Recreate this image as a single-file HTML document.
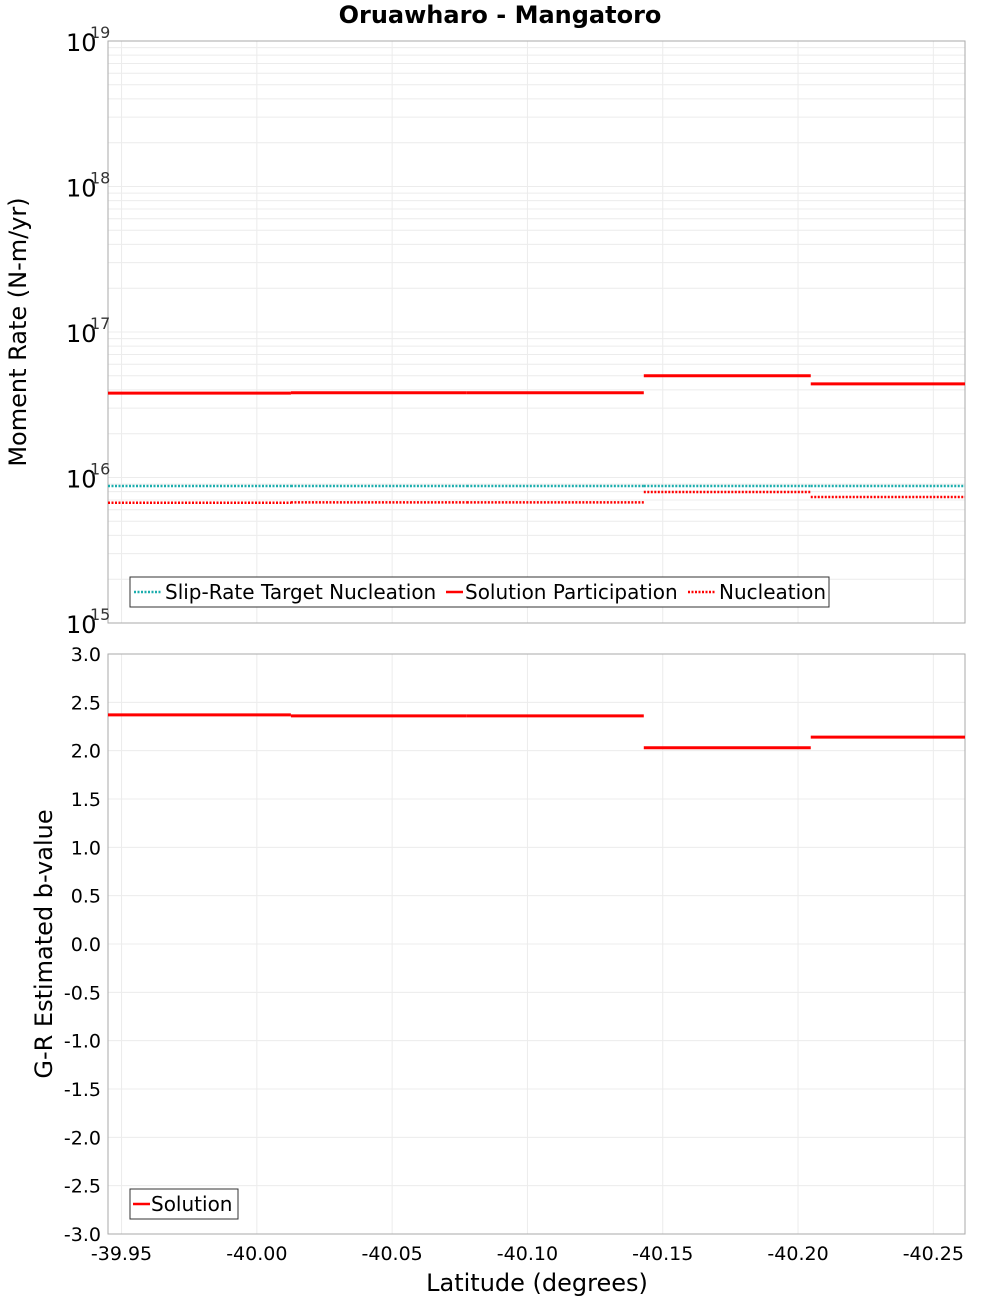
<!DOCTYPE html>
<html><head><meta charset="utf-8"><style>
body{margin:0;background:#fff;}
svg{display:block;font-family:"DejaVu Sans","Liberation Sans",sans-serif;}
</style></head><body>
<svg id="c" width="1000" height="1300"></svg>
<script>
const boundaries=[-39.945,-40.0126,-40.0776,-40.1430,-40.2047,-40.2617];
const participation=[3.8e16,3.82e16,3.82e16,5.0e16,4.4e16];
const target=[8.75e15,8.75e15,8.75e15,8.75e15,8.75e15];
const nucleation=[6.7e15,6.75e15,6.75e15,7.95e15,7.35e15];
const bvalue=[2.37,2.36,2.36,2.03,2.14];
const xTicks=[-39.95,-40.00,-40.05,-40.10,-40.15,-40.20,-40.25];
const xTickLabels=["-39.95","-40.00","-40.05","-40.10","-40.15","-40.20","-40.25"];
const decades=[15,16,17,18,19];
const bTicks=[-3,-2.5,-2,-1.5,-1,-0.5,0,0.5,1,1.5,2,2.5,3];

const NS="http://www.w3.org/2000/svg";
const svg=document.getElementById('c');
const L=108,R=965,T1=41,B1=623,T2=654,B2=1234;
const x=v=>L+(v-boundaries[0])/(boundaries[5]-boundaries[0])*(R-L);
const y1=v=>B1-(Math.log10(v)-15)/4*(B1-T1);
const y2=v=>B2-(v+3)/6*(B2-T2);
function el(tag,attrs,txt){const e=document.createElementNS(NS,tag);for(const k in attrs)e.setAttribute(k,attrs[k]);if(txt!==undefined)e.textContent=txt;svg.appendChild(e);return e;}

for(let d=15;d<19;d++)for(let m=1;m<10;m++){const yy=y1(m*Math.pow(10,d));
 const g=el('line',{x1:L,x2:R,y1:yy,y2:yy,stroke:'#ececec','stroke-width':1});
 }
bTicks.forEach(t=>{const g=el('line',{x1:L,x2:R,y1:y2(t),y2:y2(t),stroke:'#ececec'});
 });
xTicks.forEach(t=>{[[T1,B1],[T2,B2]].forEach(([a,b])=>{const g=el('line',{x1:x(t),x2:x(t),y1:a,y2:b,stroke:'#ececec'});
 });});

let f=el('rect',{x:L,y:T1,width:R-L,height:B1-T1,fill:'none',stroke:'#aaa'});

f=el('rect',{x:L,y:T2,width:R-L,height:B2-T2,fill:'none',stroke:'#aaa'});


function steps(arr,yf,color,dash,name,w){arr.forEach((v,i)=>{const a={x1:x(boundaries[i]),x2:x(boundaries[i+1]),y1:yf(v),y2:yf(v),stroke:color,'stroke-width':w};
 if(dash)a['stroke-dasharray']=dash;const s=el('line',a);
 });}
steps(target,y1,'#1aadad','2,1.5','target-nucleation',2.5);
steps(nucleation,y1,'#ff0000','2,1.5','nucleation',2.5);
steps(participation,y1,'#ff0000',null,'solution-participation',3);
steps(bvalue,y2,'#ff0000',null,'b-value',3);

decades.forEach(d=>{const t=el('text',{x:66,y:y1(Math.pow(10,d))+10,'font-size':24},'10');
 
 const s=el('text',{x:90,y:y1(Math.pow(10,d))-3,'font-size':16,fill:'#333'},String(d));
 });
bTicks.forEach(t=>{const s=el('text',{x:101,y:y2(t)+7,'font-size':19,'text-anchor':'end'},t.toFixed(1));
 });
xTicks.forEach((t,i)=>{const s=el('text',{x:x(t),y:1260,'font-size':19,'text-anchor':'middle'},xTickLabels[i]);
 });

let t=el('text',{x:500,y:23,'font-size':24,'font-weight':'bold','text-anchor':'middle'},'Oruawharo - Mangatoro');

t=el('text',{x:537,y:1291,'font-size':24,'text-anchor':'middle'},'Latitude (degrees)');

t=el('text',{x:26,y:332,'font-size':24,'text-anchor':'middle',transform:'rotate(-90 26 332)'},'Moment Rate (N-m/yr)');

t=el('text',{x:52,y:944,'font-size':24,'text-anchor':'middle',transform:'rotate(-90 52 944)'},'G-R Estimated b-value');


let lg=el('rect',{x:130,y:577,width:699,height:30,fill:'#fff',stroke:'#333'});

const items=[[134,'#1aadad','2,1.5','Slip-Rate Target Nucleation'],[446,'#ff0000',null,'Solution Participation'],[688,'#ff0000','2,1.5','Nucleation']];
items.forEach(([lx,c,d,txt],i)=>{const a={x1:lx,x2:lx+(i==1?17:28),y1:592,y2:592,stroke:c,'stroke-width':2.5};if(d)a['stroke-dasharray']=d;
 const l=el('line',a);
 const s=el('text',{x:lx+(i==1?19:31),y:599,'font-size':20},txt);});
lg=el('rect',{x:130,y:1189,width:108,height:30,fill:'#fff',stroke:'#333'});

let l=el('line',{x1:133,x2:150,y1:1204,y2:1204,stroke:'#ff0000','stroke-width':2.5});

t=el('text',{x:151,y:1211,'font-size':20},'Solution');

</script>
</body></html>
